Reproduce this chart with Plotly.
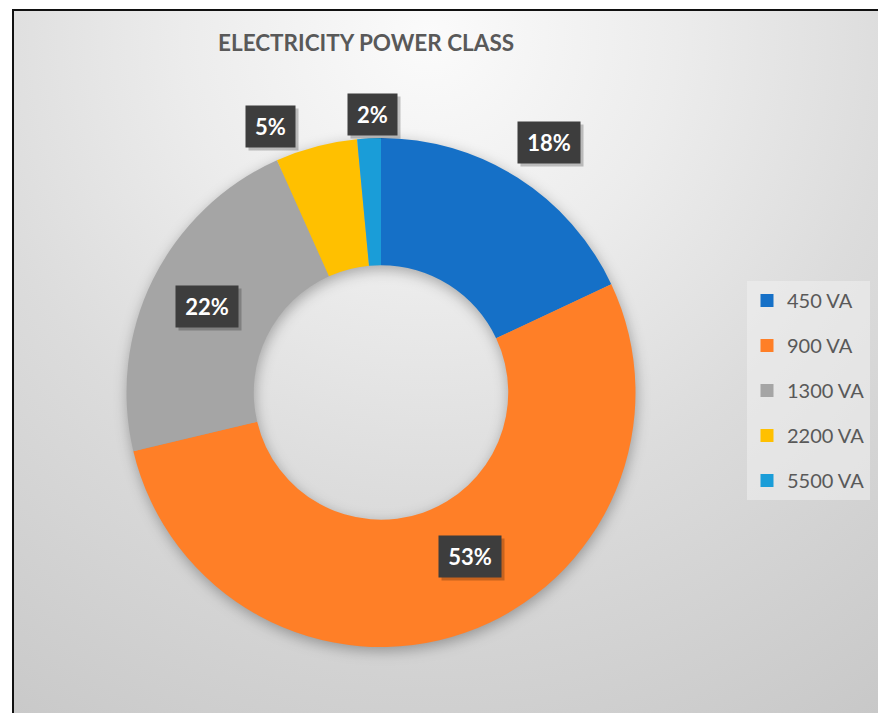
import base64
import math
import plotly.graph_objects as go

# ---------------- data ----------------
categories = ["450 VA", "900 VA", "1300 VA", "2200 VA", "5500 VA"]
shares = [18.0, 53.3, 22.0, 5.2, 1.5]
colors = ["#1570C7", "#FF7F27", "#A5A5A5", "#FFC000", "#1A9DD8"]
title_text = "ELECTRICITY POWER CLASS"

# label placement (layout only): distance from centre in px and angular nudge in degrees
label_radius = [301.6, 186.2, 193.9, 288.3, 278.6]
label_nudge = [1.45, -9.3, -0.11, -7.67, 0.85]

# ---------------- layout geometry ----------------
W, H = 878, 713
CX, CY, R = 381.0, 392.5, 254.5
HOLE = 0.5
FONT = "Lato, 'Open Sans', sans-serif"

dom_x = [(CX - R) / W, (CX + R) / W]
dom_y = [(H - CY - R) / H, (H - CY + R) / H]

# ---------------- background (gradient, border, donut shadow) ----------------
ri = R * HOLE
sx, sy = CX + 1, CY + 4
ring = (f"M {sx-R},{sy} a {R},{R} 0 1,0 {2*R},0 a {R},{R} 0 1,0 {-2*R},0 Z "
        f"M {sx-ri},{sy} a {ri},{ri} 0 1,0 {2*ri},0 a {ri},{ri} 0 1,0 {-2*ri},0 Z")
svg = f'''<svg xmlns="http://www.w3.org/2000/svg" width="{W}" height="{H}" viewBox="0 0 {W} {H}" preserveAspectRatio="none">
<defs>
<radialGradient id="g" gradientUnits="userSpaceOnUse" cx="430" cy="35" r="850">
<stop offset="0" stop-color="#fbfbfb"/>
<stop offset="0.29" stop-color="#ececec"/>
<stop offset="0.55" stop-color="#dcdcdc"/>
<stop offset="0.69" stop-color="#d5d5d5"/>
<stop offset="1" stop-color="#c6c6c6"/>
</radialGradient>
<filter id="b" x="-30%" y="-30%" width="160%" height="160%"><feGaussianBlur stdDeviation="7"/></filter>
</defs>
<rect x="0" y="0" width="{W}" height="{H}" fill="#ffffff"/>
<rect x="12" y="9" width="{W-12}" height="{H-9}" fill="url(#g)"/>
<path d="{ring}" fill="#000000" fill-opacity="0.30" fill-rule="evenodd" filter="url(#b)"/>
<rect x="12" y="9" width="{W-12}" height="2" fill="#111111"/>
<rect x="12" y="9" width="2" height="{H-9}" fill="#111111"/>
</svg>'''
bg_uri = "data:image/svg+xml;base64," + base64.b64encode(svg.encode("utf-8")).decode("ascii")

fig = go.Figure()

fig.add_trace(go.Pie(
    labels=categories,
    values=shares,
    hole=HOLE,
    sort=False,
    direction="clockwise",
    rotation=0,
    marker=dict(colors=colors, line=dict(width=0)),
    textinfo="none",
    hoverinfo="label+percent",
    showlegend=False,
    domain=dict(x=dom_x, y=dom_y),
))

# legend entries (one group per category for spacing)
for name, col in zip(categories, colors):
    fig.add_trace(go.Scatter(
        x=[None], y=[None], mode="markers", name=name, legendgroup=name,
        marker=dict(symbol="square", size=13, color=col),
        hoverinfo="skip",
    ))

# data labels computed from the slice angles
total = sum(shares)
annotations = []
cum = 0.0
LBL_SIZE, BOX_H, PAD = 22, 23, 9
for i, v in enumerate(shares):
    mid = (cum + v / 2) / total * 360.0 + label_nudge[i]
    cum += v
    a = math.radians(mid)
    px = CX + label_radius[i] * math.sin(a)
    py = CY - label_radius[i] * math.cos(a)
    pct = v / total * 100
    txt = f"{int(pct + 0.5 + 1e-9)}%"
    est_w = round(0.58 * LBL_SIZE * (len(txt) - 1) + 0.82 * LBL_SIZE)
    # shadow box (no text)
    annotations.append(dict(
        x=px / W, y=1 - py / H, xref="paper", yref="paper", text=" ",
        xanchor="center", yanchor="middle", width=est_w, height=BOX_H,
        showarrow=False, xshift=3, yshift=-3,
        font=dict(family=FONT, size=LBL_SIZE, color="rgba(0,0,0,0)"),
        bgcolor="rgba(0,0,0,0.22)", borderpad=PAD,
    ))
    annotations.append(dict(
        x=px / W, y=1 - py / H, xref="paper", yref="paper",
        xanchor="center", yanchor="middle", width=est_w, height=BOX_H,
        text=f"<b>{txt}</b>", showarrow=False,
        font=dict(family=FONT, size=LBL_SIZE, color="#ffffff"),
        bgcolor="#3d3d3d", borderpad=PAD,
    ))

annotations.append(dict(
    x=366 / W, y=1 - 42 / H, xref="paper", yref="paper", xanchor="center", yanchor="middle",
    text=f"<b>{title_text}</b>", showarrow=False,
    font=dict(family=FONT, size=22.5, color="#595959"),
))

fig.update_layout(
    width=W, height=H,
    margin=dict(l=0, r=0, t=0, b=0),
    paper_bgcolor="#ffffff",
    plot_bgcolor="rgba(0,0,0,0)",
    xaxis=dict(visible=False),
    yaxis=dict(visible=False),
    images=[dict(source=bg_uri, xref="paper", yref="paper", x=0, y=1, sizex=1, sizey=1,
                 xanchor="left", yanchor="top", sizing="stretch", layer="below")],
    annotations=annotations,
    legend=dict(
        x=747 / W, y=1 - 281 / H, xanchor="left", yanchor="top",
        bgcolor="rgba(240,240,240,0.55)", borderwidth=0,
        font=dict(family=FONT, size=20, color="#595959"),
        tracegroupgap=16, itemclick=False, itemdoubleclick=False,
    ),
    showlegend=True,
)

fig.write_html("out.html", config={"displayModeBar": False},
               post_script="document.body.style.margin='0';")
